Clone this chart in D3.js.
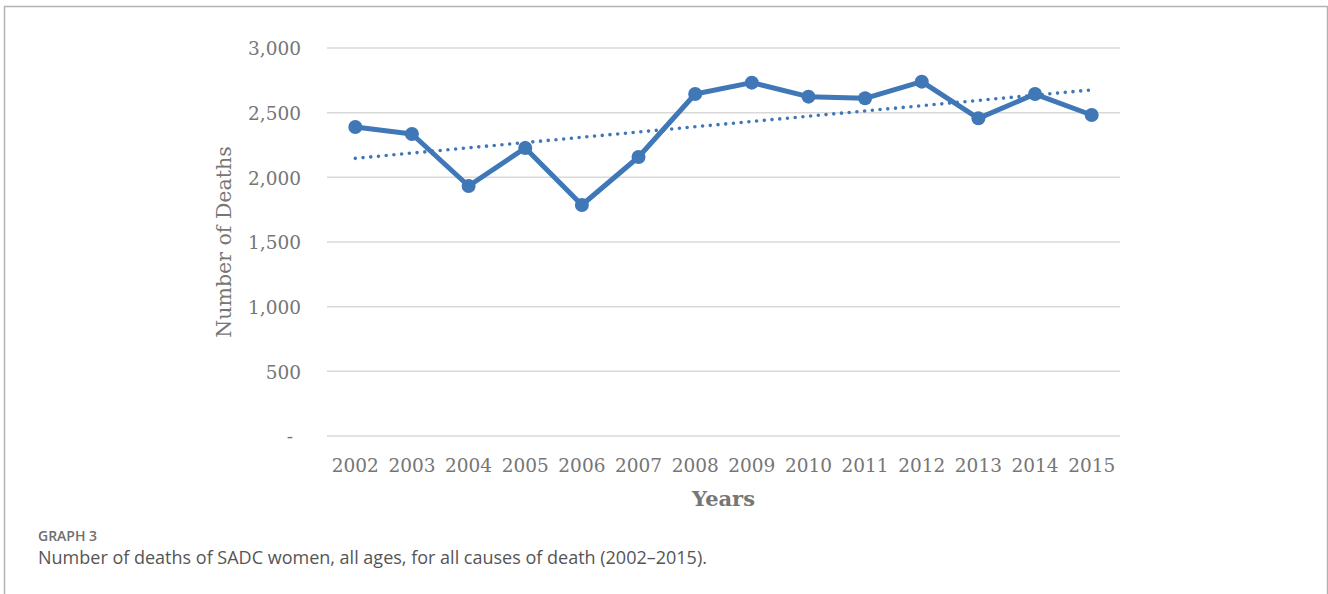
<!DOCTYPE html>
<html>
<head>
<meta charset="utf-8">
<script src="https://cdn.jsdelivr.net/npm/d3@7"></script>
<style>
  html, body { margin: 0; padding: 0; background: #fff; }
  svg { display: block; }
</style>
</head>
<body>
<svg id="chart" width="1328" height="594"></svg>
<script>
// chart data
var years = ['2002', '2003', '2004', '2005', '2006', '2007', '2008', '2009', '2010', '2011', '2012', '2013', '2014', '2015'];
var deaths = [2389, 2335, 1933, 2227, 1786, 2157, 2644, 2732, 2624, 2611, 2740, 2456, 2644, 2482];
var yTicks = [0, 500, 1000, 1500, 2000, 2500, 3000];

var svg = d3.select('#chart');
var blue = '#3f77b7';
var grey = '#767676';

// frame around the figure
svg.append('path')
  .attr('d', 'M4.5,600 V6.5 H1327.5 V600')
  .attr('fill', 'none')
  .attr('stroke', '#b3b3b3')
  .attr('stroke-width', 1.5);

var plotL = 327, plotR = 1120, plotT = 48, plotB = 436;

var x = d3.scaleBand().domain(years).range([plotL, plotR]);
var y = d3.scaleLinear().domain([0, 3000]).range([plotB, plotT]);

// gridlines
svg.append('g').selectAll('line')
  .data(yTicks)
  .enter().append('line')
  .attr('x1', plotL).attr('x2', plotR)
  .attr('y1', function (d) { return y(d); })
  .attr('y2', function (d) { return y(d); })
  .attr('stroke', '#d9d9d9')
  .attr('stroke-width', 1.5);

// y axis labels
var yAxis = d3.axisLeft(y).tickValues(yTicks).tickSize(0).tickPadding(0)
  .tickFormat(function (d) { return d === 0 ? '-' : d3.format(',')(d); });
var gy = svg.append('g').attr('transform', 'translate(' + (plotL - 26) + ',0)').call(yAxis);
gy.select('.domain').remove();
gy.selectAll('text')
  .attr('fill', grey)
  .attr('font-family', 'DejaVu Serif')
  .attr('font-size', 18.5)
  .attr('dy', '0.36em');
gy.selectAll('.tick').filter(function (d) { return d === 0; }).select('text').attr('dx', -8);

// x axis labels
var xAxis = d3.axisBottom(x).tickSize(0).tickPadding(0);
var gx = svg.append('g').attr('transform', 'translate(0,' + (plotB + 36) + ')').call(xAxis);
gx.select('.domain').remove();
gx.selectAll('text')
  .attr('fill', grey)
  .attr('font-family', 'DejaVu Serif')
  .attr('font-size', 18.5)
  .attr('dy', 0);

// axis titles
svg.append('text')
  .attr('transform', 'translate(231,' + ((plotT + plotB) / 2) + ') rotate(-90)')
  .attr('text-anchor', 'middle')
  .attr('fill', grey)
  .attr('font-family', 'DejaVu Serif')
  .attr('font-size', 20.5)
  .text('Number of Deaths');

svg.append('text')
  .attr('x', (plotL + plotR) / 2)
  .attr('y', 506)
  .attr('text-anchor', 'middle')
  .attr('fill', grey)
  .attr('font-family', 'DejaVu Serif')
  .attr('font-weight', 'bold')
  .attr('font-size', 21)
  .text('Years');

// linear trend (least squares over year index)
var n = deaths.length;
var mx = (n - 1) / 2;
var my = d3.mean(deaths);
var sxy = d3.sum(deaths, function (d, i) { return (i - mx) * (d - my); });
var sxx = d3.sum(deaths, function (d, i) { return (i - mx) * (i - mx); });
var slope = sxy / sxx;
var trend = [0, n - 1].map(function (i) { return [i, my + slope * (i - mx)]; });

var cx = function (i) { return x(years[i]) + x.bandwidth() / 2; };

svg.append('path')
  .datum(trend)
  .attr('d', d3.line().x(function (d) { return cx(d[0]); }).y(function (d) { return y(d[1]); }))
  .attr('fill', 'none')
  .attr('stroke', blue)
  .attr('stroke-width', 3.6)
  .attr('stroke-linecap', 'round')
  .attr('stroke-dasharray', '0 7.75');

// data line and markers
svg.append('path')
  .datum(deaths)
  .attr('d', d3.line().x(function (d, i) { return cx(i); }).y(function (d) { return y(d); }))
  .attr('fill', 'none')
  .attr('stroke', blue)
  .attr('stroke-width', 5)
  .attr('stroke-linejoin', 'round');

svg.append('g').selectAll('circle')
  .data(deaths)
  .enter().append('circle')
  .attr('cx', function (d, i) { return cx(i); })
  .attr('cy', function (d) { return y(d); })
  .attr('r', 7)
  .attr('fill', blue);

// caption
svg.append('text')
  .attr('x', 38).attr('y', 541)
  .attr('fill', '#6f6f6f')
  .attr('font-family', 'Open Sans')
  .attr('font-weight', 600)
  .attr('font-size', 14)
  .text('GRAPH 3');

svg.append('text')
  .attr('x', 38).attr('y', 564)
  .attr('fill', '#555555')
  .attr('font-family', 'Open Sans')
  .attr('font-size', 18)
  .text('Number of deaths of SADC women, all ages, for all causes of death (2002\u20132015).');
</script>
</body>
</html>
